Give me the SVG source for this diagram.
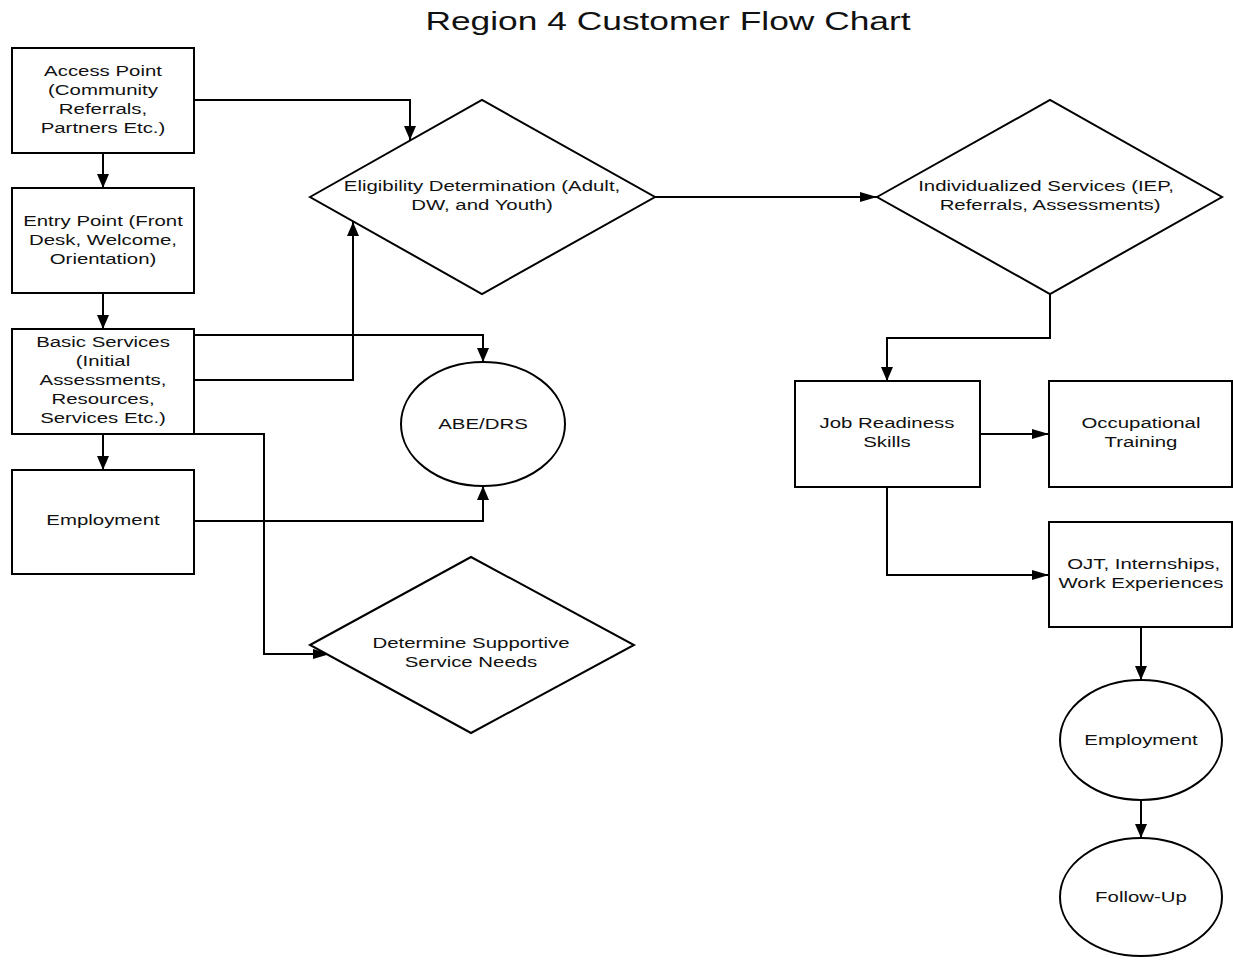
<svg xmlns="http://www.w3.org/2000/svg" width="1233" height="962" viewBox="0 0 1233 962">
<style>
.shape{fill:#fff;stroke:#000;stroke-width:2}
.conn{fill:none;stroke:#000;stroke-width:2}
.t{font-family:"Liberation Sans",Arial,sans-serif;font-size:15px;fill:#111;text-anchor:middle}
.title{font-family:"Liberation Sans",Arial,sans-serif;font-size:26px;fill:#111;text-anchor:middle}
</style>
<defs>
<marker id="mv" viewBox="0 0 14 12" markerWidth="14" markerHeight="12" refX="14" refY="6" orient="auto" markerUnits="userSpaceOnUse"><path d="M0,0 L14,6 L0,12 z" fill="#000"/></marker>
<marker id="mh" viewBox="0 0 17 10" markerWidth="17" markerHeight="10" refX="17" refY="5" orient="auto" markerUnits="userSpaceOnUse"><path d="M0,0 L17,5 L0,10 z" fill="#000"/></marker>
</defs>
<rect width="1233" height="962" fill="#fff"/>
<text class="title" transform="matrix(1.36 0 0 1 668 0)" x="0" y="30">Region 4 Customer Flow Chart</text>

<g id="connectors">
<path class="conn" d="M103,153 V188" marker-end="url(#mv)"/>
<path class="conn" d="M103,293 V329" marker-end="url(#mv)"/>
<path class="conn" d="M103,434 V470" marker-end="url(#mv)"/>
<path class="conn" d="M194,100 H410 V140" marker-end="url(#mv)"/>
<path class="conn" d="M194,380 H353 V222" marker-end="url(#mv)"/>
<path class="conn" d="M194,335 H483 V362" marker-end="url(#mv)"/>
<path class="conn" d="M194,521 H483 V486" marker-end="url(#mv)"/>
<path class="conn" d="M194,434 H264 V654 H330" marker-end="url(#mh)"/>
<path class="conn" d="M655,197 H877" marker-end="url(#mh)"/>
<path class="conn" d="M1050,294 V338 H887 V381" marker-end="url(#mv)"/>
<path class="conn" d="M980,434 H1049" marker-end="url(#mh)"/>
<path class="conn" d="M887,487 V575 H1049" marker-end="url(#mh)"/>
<path class="conn" d="M1141,627 V680" marker-end="url(#mv)"/>
<path class="conn" d="M1141,800 V838" marker-end="url(#mv)"/>
</g>

<g id="access-point">
<rect class="shape" x="12" y="48" width="182" height="105"/>
<text class="t" transform="matrix(1.36 0 0 1 103 0)"><tspan x="0" y="76">Access Point</tspan><tspan x="0" y="95">(Community</tspan><tspan x="0" y="114">Referrals,</tspan><tspan x="0" y="133">Partners Etc.)</tspan></text>
</g>
<g id="entry-point">
<rect class="shape" x="12" y="188" width="182" height="105"/>
<text class="t" transform="matrix(1.36 0 0 1 103 0)"><tspan x="0" y="226">Entry Point (Front</tspan><tspan x="0" y="245">Desk, Welcome,</tspan><tspan x="0" y="264">Orientation)</tspan></text>
</g>
<g id="basic-services">
<rect class="shape" x="12" y="329" width="182" height="105"/>
<text class="t" transform="matrix(1.36 0 0 1 103 0)"><tspan x="0" y="347">Basic Services</tspan><tspan x="0" y="366">(Initial</tspan><tspan x="0" y="385">Assessments,</tspan><tspan x="0" y="404">Resources,</tspan><tspan x="0" y="423">Services Etc.)</tspan></text>
</g>
<g id="employment-left">
<rect class="shape" x="12" y="470" width="182" height="104"/>
<text class="t" transform="matrix(1.36 0 0 1 103 0)"><tspan x="0" y="525">Employment</tspan></text>
</g>
<g id="eligibility">
<polygon class="shape" points="310,197 482,100 655,197 482,294"/>
<text class="t" transform="matrix(1.36 0 0 1 482 0)"><tspan x="0" y="191">Eligibility Determination (Adult,</tspan><tspan x="0" y="210">DW, and Youth)</tspan></text>
</g>
<g id="abe-drs">
<ellipse class="shape" cx="483" cy="424" rx="82" ry="62"/>
<text class="t" transform="matrix(1.36 0 0 1 483 0)"><tspan x="0" y="429">ABE/DRS</tspan></text>
</g>
<g id="supportive-services">
<polygon class="shape" points="310,645 471,557 634,645 471,733"/>
<text class="t" transform="matrix(1.36 0 0 1 471 0)"><tspan x="0" y="648">Determine Supportive</tspan><tspan x="0" y="667">Service Needs</tspan></text>
</g>
<g id="individualized">
<polygon class="shape" points="877,197 1050,100 1222,197 1050,294"/>
<text class="t" transform="matrix(1.36 0 0 1 1046 0)"><tspan x="0" y="191">Individualized Services (IEP,</tspan><tspan x="3" y="210">Referrals, Assessments)</tspan></text>
</g>
<g id="job-readiness">
<rect class="shape" x="795" y="381" width="185" height="106"/>
<text class="t" transform="matrix(1.36 0 0 1 887 0)"><tspan x="0" y="428">Job Readiness</tspan><tspan x="0" y="447">Skills</tspan></text>
</g>
<g id="occupational-training">
<rect class="shape" x="1049" y="381" width="183" height="106"/>
<text class="t" transform="matrix(1.36 0 0 1 1141 0)"><tspan x="0" y="428">Occupational</tspan><tspan x="0" y="447">Training</tspan></text>
</g>
<g id="ojt">
<rect class="shape" x="1049" y="522" width="183" height="105"/>
<text class="t" transform="matrix(1.36 0 0 1 1141 0)"><tspan x="2" y="569">OJT, Internships,</tspan><tspan x="0" y="588">Work Experiences</tspan></text>
</g>
<g id="employment-right">
<ellipse class="shape" cx="1141" cy="740" rx="81" ry="60"/>
<text class="t" transform="matrix(1.36 0 0 1 1141 0)"><tspan x="0" y="745">Employment</tspan></text>
</g>
<g id="follow-up">
<ellipse class="shape" cx="1141" cy="897" rx="81" ry="59"/>
<text class="t" transform="matrix(1.36 0 0 1 1141 0)"><tspan x="0" y="902">Follow-Up</tspan></text>
</g>
</svg>
